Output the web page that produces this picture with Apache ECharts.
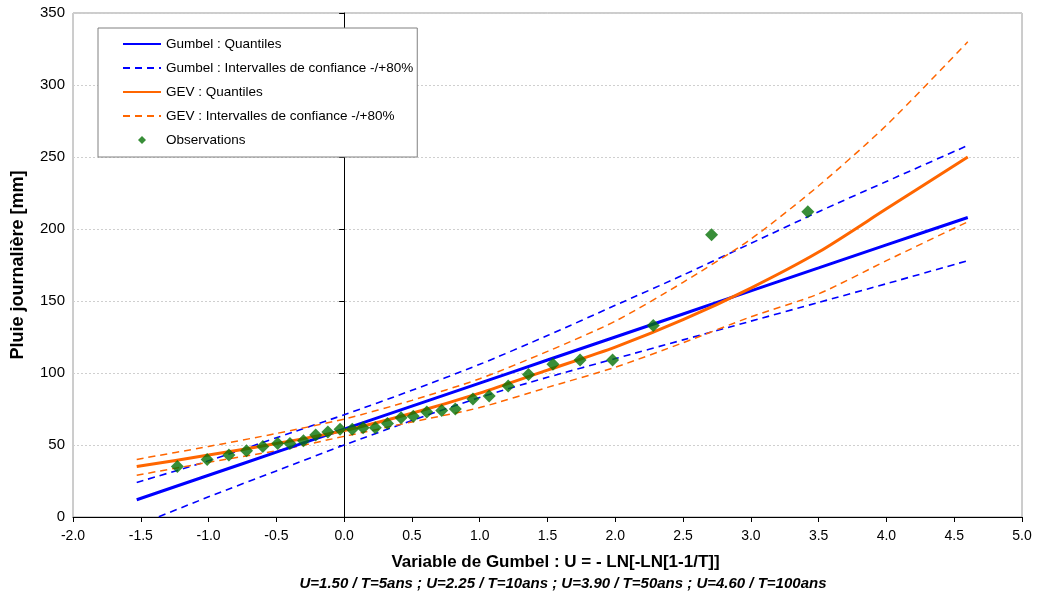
<!DOCTYPE html>
<html>
<head>
<meta charset="utf-8">
<script src="https://cdn.jsdelivr.net/npm/echarts@6/dist/echarts.min.js"></script>
<style>html,body{margin:0;padding:0;background:#fff;}#c{width:1037px;height:596px;}</style>
</head>
<body>
<div id="c"></div>
<script>
// Gumbel reduced variable grid used for the fitted curves
const uGrid    = [-1.53, -1, -0.5, 0, 0.5, 1, 1.5, 2, 2.5, 3, 3.5, 4, 4.6];
const gumbelQ  = [12, 29, 45, 61, 77, 93, 109, 125, 141, 157, 173, 189, 208];
const gumbelHi = [24, 39, 55, 71, 88, 106, 126, 147, 168, 190, 212, 233, 258];
const gumbelLo = [-6, 14, 32, 50, 67, 83, 97, 110, 123, 136, 149, 162, 178];
const gevQ     = [35, 43, 51, 60, 72, 86, 102, 118, 137, 159, 184, 214, 250];
const gevHi    = [40, 49, 58, 68, 81, 96, 115, 136, 163, 193, 230, 272, 330];
const gevLo    = [29, 38, 46, 56, 66, 76, 90, 104, 121, 139, 155, 178, 205];
// Observations
const obsU = [-1.23, -1.01, -0.85, -0.72, -0.60, -0.49, -0.40, -0.30, -0.21, -0.12, -0.03, 0.06, 0.14, 0.23, 0.32, 0.42, 0.51, 0.61, 0.72, 0.82, 0.95, 1.07, 1.21, 1.36, 1.54, 1.74, 1.98, 2.28, 2.71, 3.42];
const obsP = [35, 40, 43, 46, 49, 51, 51, 53, 57, 59, 61, 61, 62, 62, 65, 69, 70, 73, 74, 75, 82, 84, 91, 99, 106, 109, 109, 133, 196, 212];
// Labels
const seriesNames = ['Gumbel : Quantiles', 'Gumbel : Intervalles de confiance -/+80%', 'GEV : Quantiles', 'GEV : Intervalles de confiance -/+80%', 'Observations'];
const xTitle = 'Variable de Gumbel : U = - LN[-LN[1-1/T]]';
const xSubtitle = 'U=1.50 / T=5ans ; U=2.25 / T=10ans ; U=3.90 / T=50ans ; U=4.60 / T=100ans';
const yTitle = 'Pluie journalière [mm]';

const pair = (xs, ys) => xs.map((x, i) => [x, ys[i]]);
const FONT = 'Liberation Sans, Arial, sans-serif';
const BLUE = '#0000FF', ORANGE = '#FF6600', GREEN = '#067206';

const chart = echarts.init(document.getElementById('c'), null, {renderer: 'canvas'});
const lineS = (name, ys, color, width, dashed) => ({
  name, type: 'line', data: pair(uGrid, ys), symbol: 'none', smooth: 0.25,
  lineStyle: {color, width, type: dashed ? [7, 5] : 'solid'}, itemStyle: {color},
  emphasis: {disabled: true}, clip: true, z: dashed ? 2 : 3
});
const lineLegend = name => ({name, icon: 'inherit', itemStyle: {opacity: 0}});
chart.setOption({
  animation: false,
  backgroundColor: '#fff',
  grid: {left: 73, right: 15, top: 13, bottom: 79, show: true, borderColor: '#9a9a9a', borderWidth: 1, backgroundColor: 'transparent'},
  legend: {
    orient: 'vertical', left: 98, top: 28,
    padding: [9, 4, 10, 24], itemGap: 10, itemWidth: 38, itemHeight: 14,
    backgroundColor: '#fff', borderColor: '#808080', borderWidth: 1,
    textStyle: {fontFamily: FONT, fontSize: 13.5, color: '#000'},
    data: [
      lineLegend(seriesNames[0]), lineLegend(seriesNames[1]), lineLegend(seriesNames[2]), lineLegend(seriesNames[3]),
      {name: seriesNames[4], icon: 'path://M0,0M38,14M15,7L19,3L23,7L19,11Z'}
    ]
  },
  xAxis: {
    type: 'value', min: -2, max: 5, interval: 0.5,
    name: xTitle, nameLocation: 'middle', nameGap: 37,
    nameTextStyle: {fontFamily: FONT, fontSize: 17, fontWeight: 'bold', color: '#000', padding: [0, 0, 0, 16]},
    axisLine: {show: true, onZero: false, lineStyle: {color: '#000', width: 1}},
    axisTick: {show: true, length: 5, lineStyle: {color: '#000'}},
    axisLabel: {fontFamily: FONT, fontSize: 14, color: '#000', margin: 12, formatter: v => v.toFixed(1)},
    splitLine: {show: false}
  },
  yAxis: {
    type: 'value', min: 0, max: 350, interval: 50,
    name: yTitle, nameLocation: 'middle', nameGap: 46,
    nameTextStyle: {fontFamily: FONT, fontSize: 18, fontWeight: 'bold', color: '#000'},
    axisLine: {show: true, lineStyle: {color: '#000', width: 1}},
    axisTick: {show: true, length: 5, lineStyle: {color: '#000'}},
    axisLabel: {fontFamily: FONT, fontSize: 15, color: '#000', margin: 8},
    splitLine: {show: true, lineStyle: {color: '#cfcfcf', type: [2, 2], width: 1}}
  },
  graphic: [{
    type: 'text', x: 563, y: 584,
    style: {text: xSubtitle, font: 'italic bold 15px ' + FONT, fill: '#000', textAlign: 'center', textVerticalAlign: 'middle'}
  }],
  series: [
    lineS(seriesNames[0], gumbelQ, BLUE, 3, false),
    lineS(seriesNames[1], gumbelHi, BLUE, 1.6, true),
    lineS(seriesNames[1], gumbelLo, BLUE, 1.6, true),
    lineS(seriesNames[2], gevQ, ORANGE, 3, false),
    lineS(seriesNames[3], gevHi, ORANGE, 1.5, true),
    lineS(seriesNames[3], gevLo, ORANGE, 1.5, true),
    {name: seriesNames[4], type: 'scatter', data: pair(obsU, obsP), symbol: 'diamond', symbolSize: 13,
     itemStyle: {color: GREEN}, z: 5, emphasis: {disabled: true}}
  ]
});
</script>
</body>
</html>
